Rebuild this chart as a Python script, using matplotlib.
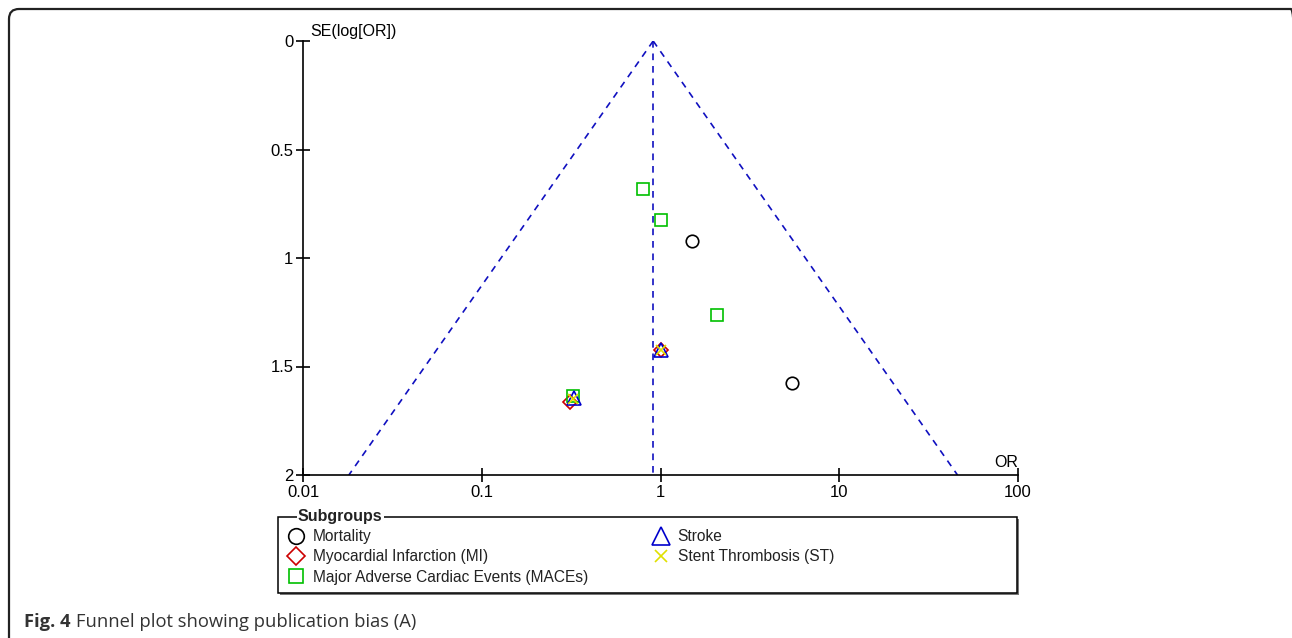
import numpy as np
import matplotlib.pyplot as plt
from matplotlib.lines import Line2D
from matplotlib.patches import FancyBboxPatch, Rectangle
from matplotlib.ticker import NullLocator
from matplotlib.transforms import IdentityTransform

plt.switch_backend("Agg")
plt.rcParams["font.family"] = ["Liberation Sans", "DejaVu Sans"]

# values (OR, SE of log OR)
mortality_or = [1.50, 5.44]
mortality_se = [0.922, 1.576]
mi_or = [0.312, 1.01]
mi_se = [1.664, 1.425]
mace_or = [0.80, 1.00, 2.07, 0.322]
mace_se = [0.682, 0.825, 1.263, 1.636]
stroke_or = [0.328, 1.0]
stroke_se = [1.645, 1.425]
st_or = [0.322, 1.0]
st_se = [1.65, 1.425]

pooled_or = 0.91
se_max = 2.0

x_ticks = [0.01, 0.1, 1, 10, 100]
x_tick_labels = ["0.01", "0.1", "1", "10", "100"]
y_ticks = [0, 0.5, 1, 1.5, 2]
y_tick_labels = ["0", "0.5", "1", "1.5", "2"]

W, H = 1292, 638
fig = plt.figure(figsize=(W / 100, H / 100), dpi=100)
ax = fig.add_axes([303 / W, 1 - 475 / H, 715 / W, 434 / H])

# funnel: pooled estimate +/- 1.96 SE
line_col = "#1010c0"
se = np.linspace(0, se_max, 100)
lo = np.exp(np.log(pooled_or) - 1.96 * se)
hi = np.exp(np.log(pooled_or) + 1.96 * se)
dash = (0, (4, 3.5))
ax.plot(lo, se, color=line_col, lw=1.2, ls=dash)
ax.plot(hi, se, color=line_col, lw=1.2, ls=dash)
ax.plot([pooled_or, pooled_or], [0, se_max], color=line_col, lw=1.2, ls=dash)

groups = [
    ("Mortality", mortality_or, mortality_se, "o", "#000000", 9.0),
    ("Myocardial Infarction (MI)", mi_or, mi_se, "D", "#cc0000", 7.6),
    ("Major Adverse Cardiac Events (MACEs)", mace_or, mace_se, "s", "#00c000", 8.0),
    ("Stroke", stroke_or, stroke_se, "^", "#0000cc", 10.5),
    ("Stent Thrombosis (ST)", st_or, st_se, "x", "#e0e000", 6.5),
]

handles = []
for name, xs, ys, mk, col, ms in groups:
    ax.plot(xs, ys, ls="none", marker=mk, mfc="none", mec=col, mew=1.2, ms=ms)
    handles.append(Line2D([], [], ls="none", marker=mk, mfc="none", mec=col,
                          mew=1.2, ms=ms * 1.25))
labels = [g[0] for g in groups]

ax.set_xscale("log")
ax.set_xlim(0.01, 100)
ax.set_ylim(se_max, 0)
ax.xaxis.set_minor_locator(NullLocator())
ax.set_xticks(x_ticks)
ax.set_xticklabels(x_tick_labels)
ax.set_yticks(y_ticks)
ax.set_yticklabels(y_tick_labels)
for s in ["top", "right"]:
    ax.spines[s].set_visible(False)
for s in ["left", "bottom"]:
    ax.spines[s].set_linewidth(1.2)
ax.tick_params(direction="inout", length=10, width=1.2, labelsize=12, pad=2)

ax.text(0.01, 1.023, "SE(log[OR])", transform=ax.transAxes, ha="left",
        va="center", fontsize=11.5)
ax.text(1.0, 0.028, "OR", transform=ax.transAxes, ha="right", va="center",
        fontsize=11.5)

# legend box
ident = IdentityTransform()
fig.add_artist(Rectangle((280, H - 595), 739, 76, transform=ident,
                         facecolor="#777777", edgecolor="none", zorder=1))
fig.add_artist(Rectangle((278, H - 593), 739, 76, transform=ident,
                         facecolor="white", edgecolor="black", lw=1.1, zorder=2))
fig.text(298 / W, 1 - 517 / H, "Subgroups", fontsize=11.5, fontweight="bold",
         va="center", ha="left", color="#222222", zorder=3,
         bbox=dict(facecolor="white", edgecolor="none", pad=1))

leg_kw = dict(loc="upper left", bbox_transform=fig.transFigure, frameon=False,
              fontsize=11.2, handletextpad=0.45, labelspacing=0.34, borderpad=0,
              handlelength=1.2, borderaxespad=0)
leg1 = fig.legend(handles[:3], labels[:3], bbox_to_anchor=(287 / W, 1 - 529 / H), **leg_kw)
leg2 = fig.legend(handles[3:], labels[3:], bbox_to_anchor=(652 / W, 1 - 529 / H), **leg_kw)
for lg in (leg1, leg2):
    lg.set_zorder(4)
    for t in lg.get_texts():
        t.set_color("#222222")

# outer rounded frame
fig.add_artist(FancyBboxPatch((9, -12), 1292, H - 9 + 12, transform=ident,
                              boxstyle="round,pad=0,rounding_size=10",
                              fill=False, lw=1.6, edgecolor="#222222"))

# caption
r = fig.canvas.get_renderer()
cap = fig.text(24 / W, 1 - 627 / H, "Fig. 4", family=["Open Sans", "DejaVu Sans"],
               fontweight="bold", fontsize=13.2, color="#333333", va="baseline")
bb = cap.get_window_extent(r)
fig.text((bb.x1 + 5) / W, 1 - 627 / H, "Funnel plot showing publication bias (A)",
         family=["Open Sans", "DejaVu Sans"], fontsize=13.2, color="#333333",
         va="baseline")

fig.savefig("out.png", dpi=100)
plt.close(fig)
